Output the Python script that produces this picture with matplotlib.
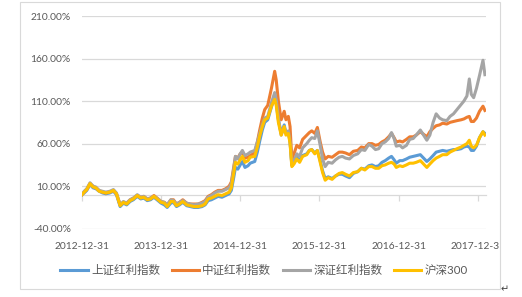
import matplotlib
matplotlib.use('Agg')
import matplotlib.pyplot as plt
import pandas as pd
from matplotlib.patches import Rectangle
from matplotlib.lines import Line2D
from matplotlib.transforms import Bbox, TransformedBbox

plt.rcParams['font.family'] = ['Lato', 'Noto Sans CJK SC', 'DejaVu Sans']

dates = [
    '2012-12-31', '2013-01-10', '2013-01-22', '2013-02-06', '2013-02-20', '2013-03-05', '2013-03-20',
    '2013-04-05', '2013-04-20', '2013-05-08', '2013-05-25', '2013-06-08', '2013-06-25', '2013-07-10',
    '2013-07-25', '2013-08-10', '2013-08-25', '2013-09-12', '2013-09-28', '2013-10-12', '2013-10-28',
    '2013-11-12', '2013-11-28', '2013-12-12', '2013-12-31',
    '2014-01-15', '2014-01-28', '2014-02-14', '2014-02-26', '2014-03-12', '2014-03-26', '2014-04-10',
    '2014-04-28', '2014-05-15', '2014-06-01', '2014-06-20', '2014-07-08', '2014-07-22', '2014-08-05',
    '2014-08-20', '2014-09-05', '2014-09-20', '2014-10-08', '2014-10-25', '2014-11-10', '2014-11-20',
    '2014-12-01', '2014-12-09', '2014-12-20', '2014-12-31',
    '2015-01-10', '2015-01-22', '2015-02-05', '2015-02-15', '2015-03-08', '2015-03-20', '2015-03-31',
    '2015-04-12', '2015-04-23', '2015-05-07', '2015-05-24', '2015-06-08', '2015-06-15', '2015-06-25',
    '2015-07-08', '2015-07-22', '2015-07-30', '2015-08-10', '2015-08-18', '2015-08-26', '2015-09-05',
    '2015-09-18', '2015-10-01', '2015-10-15', '2015-11-03', '2015-11-15', '2015-11-26', '2015-12-10',
    '2015-12-22',
    '2016-01-04', '2016-01-15', '2016-01-27', '2016-02-10', '2016-02-28', '2016-03-15', '2016-03-31',
    '2016-04-15', '2016-04-30', '2016-05-18', '2016-06-05', '2016-06-25', '2016-07-12', '2016-07-28',
    '2016-08-15', '2016-08-30', '2016-09-15', '2016-09-30', '2016-10-15', '2016-10-30', '2016-11-15',
    '2016-11-28', '2016-12-10', '2016-12-20',
    '2017-01-05', '2017-01-18', '2017-02-05', '2017-02-20', '2017-03-08', '2017-03-22', '2017-04-10',
    '2017-04-25', '2017-05-10', '2017-05-24', '2017-06-08', '2017-06-22', '2017-07-08', '2017-07-22',
    '2017-08-10', '2017-08-25', '2017-09-10', '2017-09-26', '2017-10-15', '2017-10-28', '2017-11-11',
    '2017-11-22', '2017-12-01', '2017-12-12', '2017-12-25', '2018-01-08', '2018-01-24', '2018-02-02',
]

# 上证红利指数 (%)
sse_dividend = [
    0, 2, 5, 12, 8, 7, 4, 2, 1, 2, 4, 0, -14, -10, -12, -8, -6, -2, -5, -4, -7, -6, -3, -6, -10,
    -12, -15, -10, -9, -14, -12, -9, -13, -14, -15, -15, -14, -12, -7, -6, -4, -2, -3, -1, 1, 5, 20, 32, 30, 35,
    39, 32, 34, 37, 39, 50, 63, 76, 85, 88, 103, 115, 108, 88, 72, 82, 72, 74, 62, 35, 38, 44, 40, 46, 48, 52, 53, 49, 52,
    40, 28, 19, 21, 19, 22, 24, 24, 22, 20, 25, 27, 31, 30, 34, 35, 33, 34, 38, 40, 43, 45, 41, 37,
    40, 40, 42, 44, 45, 46, 47, 43, 39, 42, 46, 50, 51, 52, 51, 52, 53, 53, 54, 56, 57, 56, 52, 52, 57, 67, 74, 72,
]

# 中证红利指数 (%)
csi_dividend = [
    0, 3, 6, 13, 10, 8, 5, 3, 2, 3, 5, 1, -12, -9, -10, -6, -4, -1, -3, -2, -5, -4, -1, -4, -8,
    -9, -12, -6, -6, -11, -9, -6, -10, -11, -11, -11, -9, -7, -2, 0, 3, 5, 5, 7, 10, 15, 32, 45, 43, 48,
    50, 43, 44, 46, 49, 62, 76, 90, 100, 105, 125, 145, 135, 110, 88, 98, 88, 92, 80, 42, 48, 58, 55, 65, 70, 73, 75, 72, 79,
    62, 50, 42, 45, 44, 47, 50, 50, 49, 47, 51, 52, 56, 55, 60, 60, 58, 59, 62, 64, 68, 72, 67, 62,
    63, 62, 65, 68, 68, 70, 74, 71, 68, 74, 78, 81, 82, 84, 83, 85, 86, 87, 88, 89, 91, 92, 86, 86, 90, 98, 104, 99,
]

# 深证红利指数 (%)
szse_dividend = [
    0, 4, 7, 14, 10, 9, 5, 4, 3, 4, 6, 2, -12, -8, -10, -6, -4, 0, -3, -2, -5, -4, -2, -4, -8,
    -9, -12, -6, -7, -11, -9, -7, -10, -11, -12, -11, -10, -8, -3, -1, 2, 4, 4, 6, 8, 13, 30, 45, 42, 48,
    52, 46, 48, 50, 52, 62, 72, 82, 90, 92, 108, 120, 112, 90, 70, 80, 72, 75, 62, 36, 40, 48, 45, 55, 60, 64, 67, 66, 75,
    58, 42, 33, 38, 37, 41, 44, 45, 43, 42, 46, 48, 53, 52, 59, 57, 53, 54, 60, 62, 66, 73, 66, 57,
    58, 55, 58, 65, 66, 70, 76, 70, 64, 70, 85, 95, 90, 88, 87, 92, 95, 100, 106, 110, 116, 136, 118, 114, 125, 140, 158, 141,
]

# 沪深300 (%)
hs300 = [
    0, 3, 6, 13, 9, 8, 4, 3, 2, 3, 5, 1, -13, -9, -11, -7, -5, -1, -4, -3, -6, -5, -2, -5, -9,
    -10, -14, -8, -8, -13, -11, -8, -12, -13, -14, -14, -13, -11, -5, -4, -2, 0, -1, 1, 3, 8, 25, 38, 36, 41,
    45, 38, 40, 44, 45, 56, 69, 80, 88, 90, 104, 112, 105, 85, 70, 80, 70, 72, 60, 33, 36, 42, 38, 45, 47, 52, 53, 48, 52,
    38, 26, 17, 20, 18, 22, 25, 26, 24, 22, 26, 27, 31, 29, 33, 33, 31, 31, 34, 35, 37, 38, 36, 32,
    34, 33, 35, 37, 37, 38, 40, 36, 32, 36, 40, 43, 45, 47, 47, 50, 52, 54, 56, 58, 60, 64, 57, 55, 58, 67, 74, 70,
]

series_names = ['上证红利指数', '中证红利指数', '深证红利指数', '沪深300']
series_values = [sse_dividend, csi_dividend, szse_dividend, hs300]
colors = ['#5B9BD5', '#ED7D31', '#A5A5A5', '#FFC000']

tick_dates = ['2012-12-31', '2013-12-31', '2014-12-31', '2015-12-31', '2016-12-31', '2017-12-31']
tick_labels = ['2012-12-31', '2013-12-31', '2014-12-31', '2015-12-31', '2016-12-31', '2017-12-31']
y_ticks = [-40, 10, 60, 110, 160, 210]
x_start, x_end = '2012-12-31', '2018-02-07'

W, H = 522, 297
fig = plt.figure(figsize=(W / 100, H / 100), dpi=100)
fig.patch.set_facecolor('white')

# chart-area border
border = Bbox([[20 / W, 1 - 289 / H], [500 / W, 1 - 2 / H]])
fig.patches.append(Rectangle((border.x0, border.y0), border.width, border.height,
                             transform=fig.transFigure, fill=False,
                             edgecolor='#D9D9D9', linewidth=0.8))
clip_box = TransformedBbox(border, fig.transFigure)

left, right, top, bottom = 82, 486, 16, 228.7
ax = fig.add_axes([left / W, 1 - bottom / H, (right - left) / W, (bottom - top) / H])

x = pd.to_datetime(dates)
for name, vals, c in zip(series_names, series_values, colors):
    ax.plot(x, vals, color=c, linewidth=2.2, solid_joinstyle='round', label=name, zorder=3)

ax.set_ylim(y_ticks[0], y_ticks[-1])
ax.set_xlim(pd.Timestamp(x_start), pd.Timestamp(x_end))
ax.set_yticks(y_ticks)
ax.set_yticklabels([f'{v:.2f}%' for v in y_ticks])
ax.yaxis.grid(True, color='#D9D9D9', linewidth=0.9, zorder=0)
ax.set_axisbelow(True)

ax.set_xticks(pd.to_datetime(tick_dates))
ax.set_xticklabels(tick_labels)

for s in ['left', 'right', 'top']:
    ax.spines[s].set_visible(False)
ax.spines['bottom'].set_position(('data', 0))
ax.spines['bottom'].set_color('#D9D9D9')
ax.spines['bottom'].set_linewidth(0.9)

ax.tick_params(axis='y', length=0, pad=8, labelsize=7.4, labelcolor='#595959')
ax.tick_params(axis='x', direction='out', length=4, width=0.9, color='#D9D9D9',
               pad=30, labelsize=7.4, labelcolor='#595959')
for lab in ax.get_xticklabels():
    lab.set_clip_on(True)
    lab.set_clip_box(clip_box)

handles = [Line2D([0], [0], color=c, linewidth=2.2) for c in colors]
fig.legend(handles, series_names, loc='center', bbox_to_anchor=(264 / W, 1 - 270.7 / H),
           ncol=4, frameon=False, fontsize=8.3, handlelength=2.4, handletextpad=0.25,
           columnspacing=1.0, labelcolor='#595959', borderpad=0, borderaxespad=0)

fig.text(505 / W, 1 - 289 / H, '↵', fontsize=7, color='#404040', ha='center', va='center',
         family='DejaVu Sans')

fig.savefig('out.png', dpi=100, facecolor='white')
